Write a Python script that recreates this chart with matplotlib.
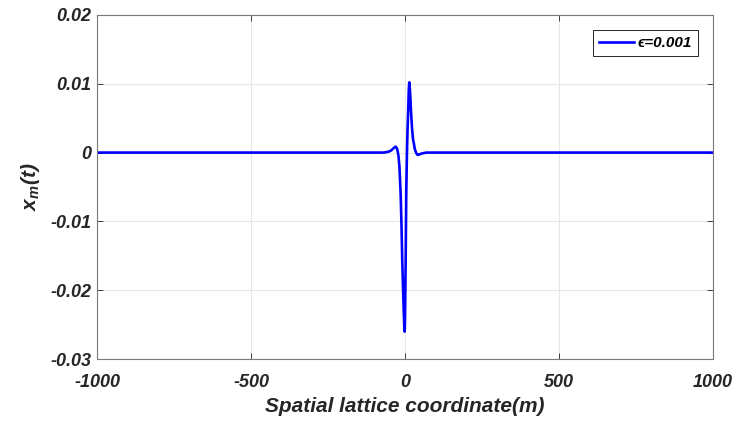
import numpy as np
import matplotlib.pyplot as plt

plt.rcParams['font.family'] = ['Liberation Sans', 'DejaVu Sans']
plt.rcParams['mathtext.fontset'] = 'custom'
plt.rcParams['mathtext.it'] = 'Liberation Sans:italic:bold'
plt.rcParams['mathtext.rm'] = 'Liberation Sans'
plt.rcParams['axes.unicode_minus'] = False

# lattice coordinate m and displacement x_m(t)
m = [-1000, -70, -55, -45, -38, -30, -25, -21, -18, -14, -11, -8.8, -6, -4, -2,
     -1, 0, 1, 2.3, 4.2, 6.5, 8.5, 10.8, 12.5, 14, 15.5, 17, 19.5, 23, 26, 29,
     32, 36, 40, 43, 50, 58, 70, 1000]
xm = [0, 0, 0.0001, 0.0003, 0.0006, 0.00087, 0.0005, -0.0005, -0.002, -0.006,
      -0.011, -0.0157, -0.020, -0.023, -0.0255, -0.026, -0.0245, -0.021,
      -0.0157, -0.006, 0, 0.0035, 0.0065, 0.0092, 0.0102, 0.0095, 0.0085,
      0.0061, 0.0035, 0.002, 0.0013, 0.0005, 0, -0.0003, -0.00034, -0.0002,
      -0.0001, 0, 0]
label = '\u03f5=0.001'

xticks = [-1000, -500, 0, 500, 1000]
yticks = [-0.03, -0.02, -0.01, 0, 0.01, 0.02]
yticklabels = ['-0.03', '-0.02', '-0.01', '0', '0.01', '0.02']

fig = plt.figure(figsize=(7.41, 4.25), dpi=100)
ax = fig.add_axes([0.131, 0.155, 0.831, 0.81])
ax.plot(m, xm, color=(0, 0, 1), lw=1.9, label=label)

ax.set_xlim(-1000, 1000)
ax.set_ylim(-0.03, 0.02)
ax.set_xticks(xticks)
ax.set_yticks(yticks)
ax.set_yticklabels(yticklabels)
ax.grid(True, color='#e6e6e6', lw=0.8)
ax.tick_params(direction='in', length=4, width=0.6, colors='#262626',
               labelsize=13, top=True, right=True)
ax.tick_params(axis='x', pad=11)
ax.tick_params(axis='y', pad=4)
for lab in ax.get_xticklabels() + ax.get_yticklabels():
    lab.set_fontweight('bold')
    lab.set_fontstyle('italic')
for s in ax.spines.values():
    s.set_color('#7a7a7a')
    s.set_linewidth(0.8)

ax.set_xlabel('Spatial lattice coordinate(m)', fontsize=15, fontweight='bold',
              fontstyle='italic', color='#262626', labelpad=4)
ax.set_ylabel(r'x$_m$(t)', fontsize=15, fontweight='bold',
              fontstyle='italic', color='#262626', labelpad=6)

leg = ax.legend(loc='upper right', fancybox=False, edgecolor='#262626',
                framealpha=1, handlelength=2.3, handletextpad=0.2,
                borderpad=0.4, borderaxespad=1.0,
                prop={'weight': 'bold', 'style': 'italic', 'size': 11,
                      'family': ['Liberation Sans', 'DejaVu Sans']})
leg.get_frame().set_linewidth(0.7)

fig.savefig('out.png', dpi=100)
